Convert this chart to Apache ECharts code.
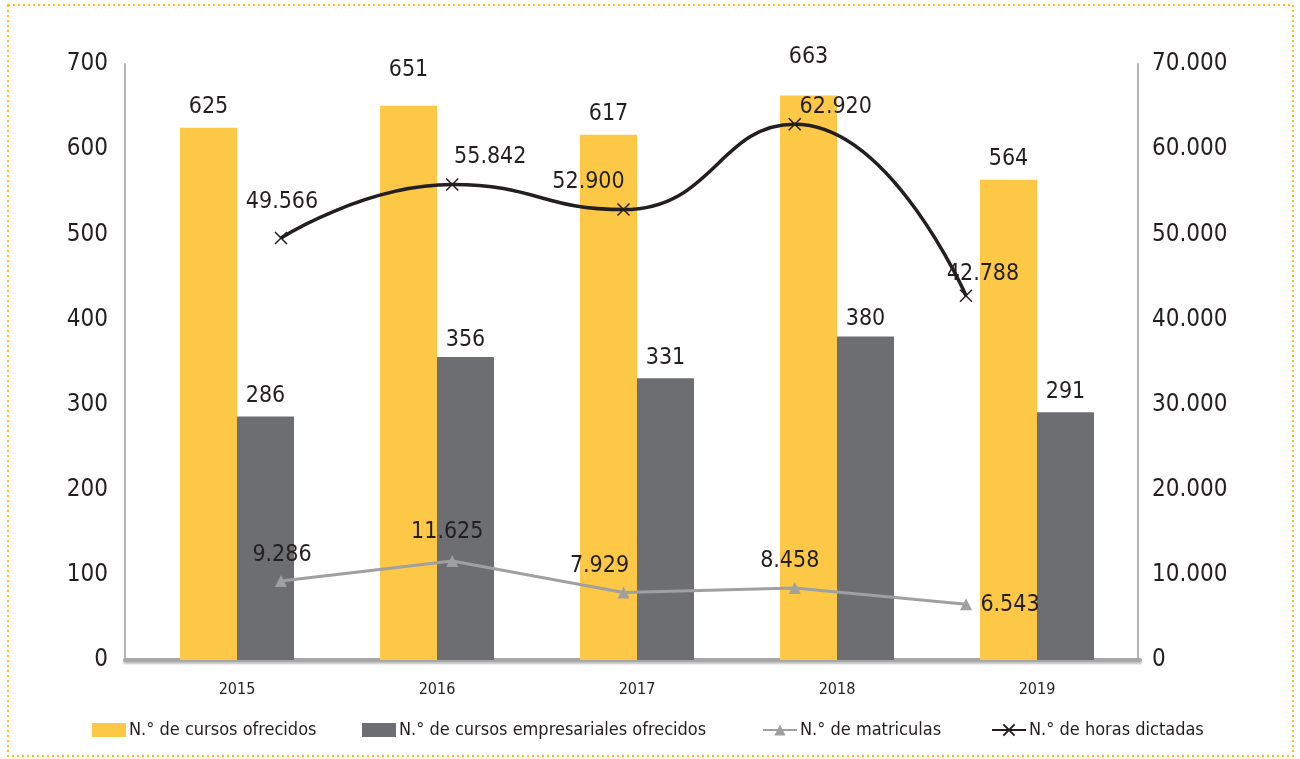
<!DOCTYPE html>
<html>
<head>
    <meta charset="UTF-8">
    <title>Cursos</title>
    <style>
        * { margin: 0; padding: 0; }
        html, body { width: 100%; height: 100%; background: #fff; }
        #container { width: 1300px; height: 759px; }
    </style>
</head>
<body>
    <div id="container"></div>
    <script src="https://cdn.jsdelivr.net/npm/echarts@6/dist/echarts.min.js"></script>
    <script>
        const years = ['2015', '2016', '2017', '2018', '2019'];
        const cursos = [625, 651, 617, 663, 564];
        const empresariales = [286, 356, 331, 380, 291];
        const matriculas = [9286, 11625, 7929, 8458, 6543];
        const horas = [49566, 55842, 52900, 62920, 42788];
        const seriesNames = [
            'N.° de cursos ofrecidos',
            'N.° de cursos empresariales ofrecidos',
            'N.° de matriculas',
            'N.° de horas dictadas'
        ];

        const FONT = '"Liberation Sans Narrow", "DejaVu Sans Condensed", "Noto Sans", sans-serif';
        const TXT = '#231f20';
        // label offsets per point (styling only)
        const cursosLabelOffset = [[0, 0], [0, -15], [0, 0], [0, -18], [0, 0]];
        const empLabelOffset = [[0, 0], [0, 4], [0, 0], [0, 3], [0, 0]];
        const horasLabelOffset = [[1, -2], [38, 6], [-35, 6], [41, 17], [17, 12]];
        const matrLabelOffset = [[1, 2], [-5, -1], [-24, 1], [-5, 1], [44, 28]];
        const legendLeft = [87, 357, 757, 986];

        const fmt = v => String(v).replace(/\B(?=(\d{3})+(?!\d))/g, '.');

        const chart = echarts.init(document.getElementById('container'));
        const gridTop = 64, gridBottom = 99;
        const labelFont = 23;

        const legends = seriesNames.map((name, i) => ({
            bottom: 15,
            left: legendLeft[i],
            itemWidth: 34,
            itemHeight: 14,
            textStyle: { fontFamily: FONT, fontSize: 18, color: TXT, padding: [0, 0, 0, -2] },
            data: [i < 2 ? { name: name, icon: 'rect' } : { name: name }]
        }));

        chart.setOption({
            backgroundColor: '#fff',
            animation: false,
            textStyle: { fontFamily: FONT, color: TXT },
            graphic: [{
                type: 'rect',
                shape: { x: 8, y: 5, width: 1285, height: 751 },
                style: { fill: 'none', stroke: '#fbbf1a', lineWidth: 2, lineDash: [2, 3] },
                silent: true
            }],
            legend: legends,
            grid: [
                { left: 137, right: 163, top: gridTop, bottom: gridBottom },
                { left: 281, right: 334, top: gridTop, bottom: gridBottom },
                { left: 125, right: 160, top: gridTop, bottom: gridBottom }
            ],
            xAxis: [
                {
                    type: 'category', gridIndex: 0, data: years,
                    axisLine: { show: false },
                    axisTick: { show: false },
                    axisLabel: { fontFamily: FONT, fontSize: 16, color: TXT, margin: 22 }
                },
                {
                    type: 'category', gridIndex: 1, data: years, boundaryGap: false,
                    show: false
                },
                {
                    type: 'category', gridIndex: 2, data: years,
                    axisLine: {
                        show: true,
                        lineStyle: { color: '#a7a7a9', width: 4, shadowColor: 'rgba(0,0,0,0.25)', shadowOffsetY: 2, shadowBlur: 2 }
                    },
                    axisTick: { show: false },
                    axisLabel: { show: false }
                }
            ],
            yAxis: [
                {
                    type: 'value', gridIndex: 0, min: 0, max: 700, interval: 100,
                    position: 'left', offset: 12,
                    axisLine: { show: true, lineStyle: { color: '#b4b4b6', width: 2 } },
                    axisTick: { show: false },
                    splitLine: { show: false },
                    axisLabel: { fontFamily: FONT, fontSize: 24, color: TXT, margin: 17 }
                },
                {
                    type: 'value', gridIndex: 0, min: 0, max: 70000, interval: 10000,
                    position: 'right', offset: 1,
                    axisLine: { show: true, lineStyle: { color: '#b4b4b6', width: 2 } },
                    axisTick: { show: false },
                    splitLine: { show: false },
                    axisLabel: { fontFamily: FONT, fontSize: 24, color: TXT, margin: 14, formatter: fmt }
                },
                {
                    type: 'value', gridIndex: 1, min: 0, max: 70000, show: false, splitLine: { show: false }
                },
                {
                    type: 'value', gridIndex: 2, min: 0, max: 700, show: false, splitLine: { show: false }
                }
            ],
            series: [
                {
                    name: seriesNames[0], type: 'bar',
                    xAxisIndex: 0, yAxisIndex: 0,
                    data: cursos.map((v, i) => ({ value: v, label: { offset: cursosLabelOffset[i] } })),
                    barWidth: 57, barGap: '0%',
                    itemStyle: { color: '#fcc846' },
                    label: { show: true, position: 'top', distance: 9, fontFamily: FONT, fontSize: labelFont, color: TXT }
                },
                {
                    name: seriesNames[1], type: 'bar',
                    xAxisIndex: 0, yAxisIndex: 0,
                    data: empresariales.map((v, i) => ({ value: v, label: { offset: empLabelOffset[i] } })),
                    barWidth: 57, barGap: '0%',
                    itemStyle: { color: '#6d6e71' },
                    label: { show: true, position: 'top', distance: 9, fontFamily: FONT, fontSize: labelFont, color: TXT }
                },
                {
                    name: seriesNames[2], type: 'line',
                    xAxisIndex: 1, yAxisIndex: 2,
                    data: matriculas.map((v, i) => ({
                        value: v,
                        label: { offset: matrLabelOffset[i] }
                    })),
                    symbol: 'triangle', symbolSize: 12,
                    lineStyle: { color: '#a0a0a2', width: 3 },
                    itemStyle: { color: '#a0a0a2' },
                    label: { show: true, position: 'top', distance: 10, fontFamily: FONT, fontSize: labelFont, color: TXT, formatter: p => fmt(p.value) },
                    z: 5
                },
                {
                    name: seriesNames[3], type: 'line',
                    xAxisIndex: 1, yAxisIndex: 2,
                    data: horas.map((v, i) => ({
                        value: v,
                        label: { offset: horasLabelOffset[i] }
                    })),
                    smooth: 0.5,
                    symbol: 'path://M0,0L10,10M10,0L0,10', symbolSize: 12,
                    lineStyle: { color: '#231f20', width: 3.5 },
                    itemStyle: { color: 'none', borderColor: '#231f20', borderWidth: 1.5 },
                    label: { show: true, position: 'top', distance: 14, fontFamily: FONT, fontSize: labelFont, color: TXT, formatter: p => fmt(p.value) },
                    z: 6
                }
            ]
        });
    </script>
</body>
</html>
